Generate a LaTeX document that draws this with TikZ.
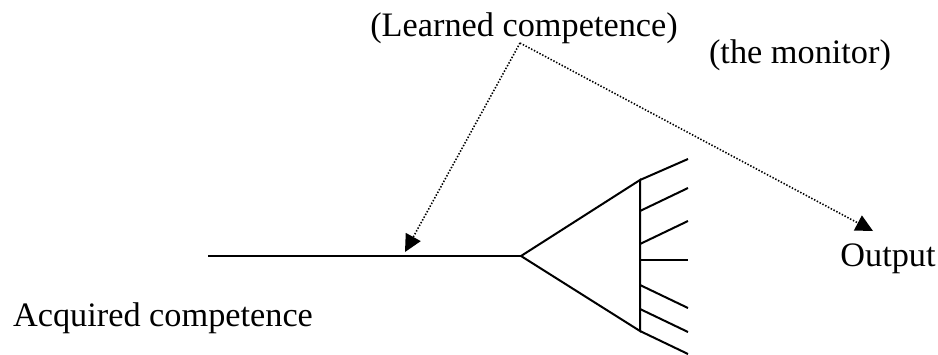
\documentclass[tikz,border=0pt]{standalone}
\usepackage{fontspec}
\setmainfont{Liberation Serif}
\usetikzlibrary{arrows.meta}
\tikzset{
    monitorpic/.style={
        x=0.35pt, y=-0.35pt,
        line cap = butt, line join = miter,
        font=\fontsize{12}{14}\selectfont,
    },
    wire/.style={line width=0.7pt},
    hint/.style={line width=0.55pt, dash pattern=on 0.5pt off 0.6pt,
        -{Triangle[length=6pt,width=6pt,line width=0pt]}},
    caption/.style={anchor=base, inner sep=0pt},
}
\newcommand{\branchx}{640}
\newcommand{\branchend}{688}

\begin{document}
\begin{tikzpicture}
        [monitorpic]
        \useasboundingbox (0,0) rectangle (938,354);
        \node[caption] (learned) at (524,36) {(Learned competence)};
        \node[caption] (monitor) at (800,63) {(the monitor)};
        \node[caption] (output) at (888,266) {Output};
        \node[caption] (acquired) at (163,326) {Acquired competence};
        \coordinate (src) at (520,43);
        \coordinate (in) at (208,256);
        \coordinate (apex) at (521,256);
        \coordinate (hitin) at (405,252);
        \coordinate (hitout) at (873,231);
        % the monitor as a fan
        \draw[wire] (in) -- (apex);
        \draw[wire] (apex) -- (\branchx,180) -- (\branchx,331) -- cycle;
        \foreach \ya/\yb in {180/159,211/188,244/221,260/260,285/308,309/332,331/354}
            \draw[wire] (\branchx,\ya) -- (\branchend,\yb);
        \draw[hint] (src) -- (hitin);
        \draw[hint] (src) -- (hitout);
    \end{tikzpicture}
\end{document}
